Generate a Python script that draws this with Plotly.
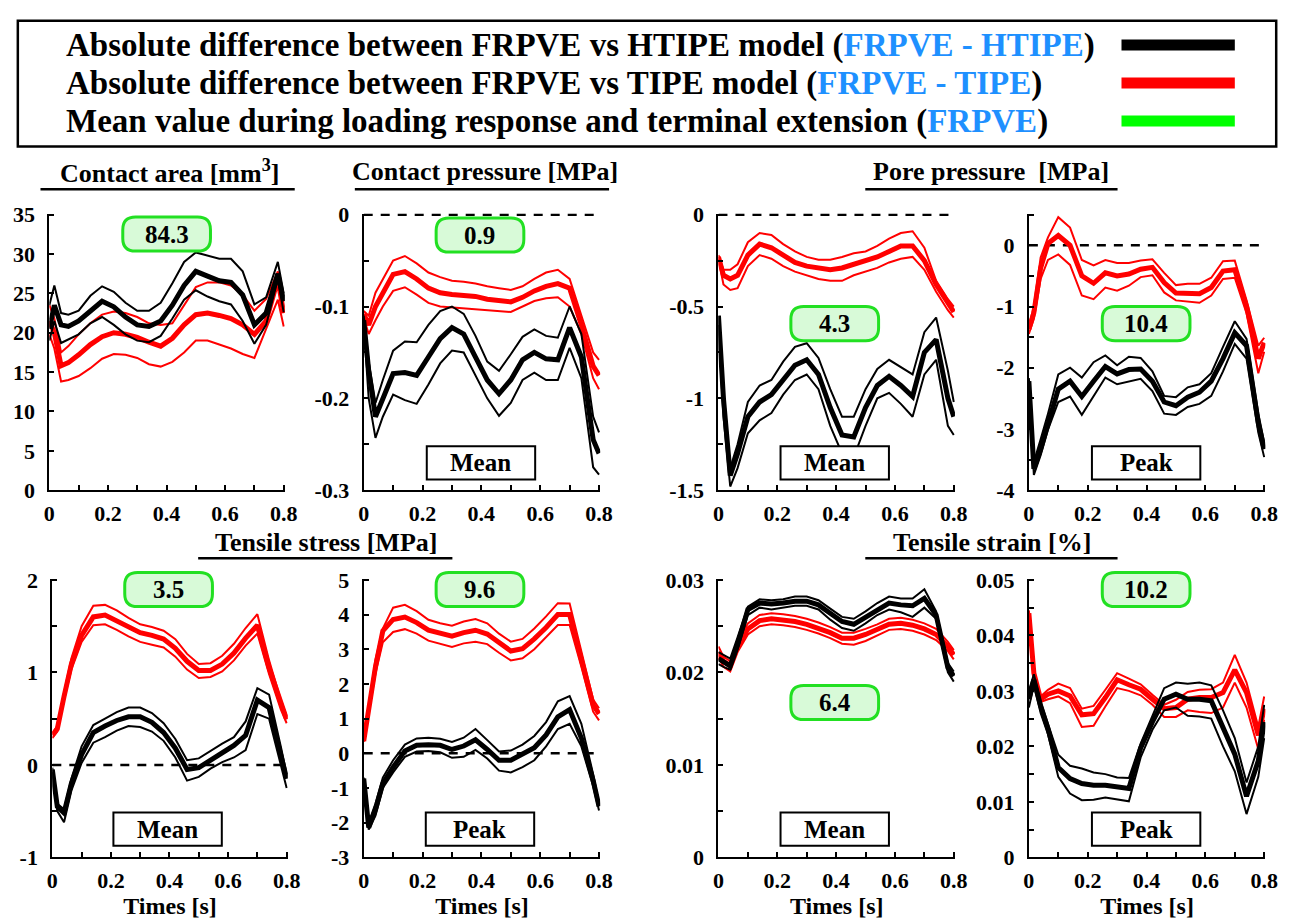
import plotly.graph_objects as go

W, H = 1303, 921

# ---------------- data ----------------
time_s = [0, 0.017, 0.04, 0.065, 0.1, 0.14, 0.18, 0.22, 0.26, 0.3, 0.34, 0.38,
          0.42, 0.46, 0.5, 0.54, 0.58, 0.62, 0.66, 0.7, 0.74, 0.78, 0.8]

# Contact area
ca_blk_mean = [20.5, 23.5, 21.0, 20.8, 21.5, 22.8, 24.0, 23.3, 22.0, 21.0, 20.8, 21.5, 23.5, 26.0, 27.8, 27.2, 26.6, 26.4, 24.8, 21.0, 22.5, 27.5, 24.0]
ca_blk_up = [23.5, 26.0, 22.5, 22.3, 22.8, 24.7, 25.9, 25.2, 23.8, 22.8, 22.8, 23.8, 26.3, 29.0, 30.2, 29.8, 29.4, 29.4, 27.8, 23.6, 24.5, 29.0, 25.0]
ca_blk_lo = [19.0, 21.5, 18.7, 19.2, 19.8, 21.2, 22.0, 21.0, 19.8, 19.0, 18.8, 19.6, 21.8, 24.2, 25.4, 24.6, 24.0, 23.6, 21.5, 18.6, 21.0, 26.8, 22.6]
ca_red_mean = [21.5, 20.0, 15.8, 16.2, 17.2, 18.5, 19.5, 20.0, 19.8, 19.4, 18.8, 18.3, 19.3, 21.0, 22.3, 22.5, 22.2, 21.8, 21.0, 19.8, 21.5, 26.8, 22.5]
ca_red_up = [23.5, 21.8, 17.5, 18.3, 19.8, 21.2, 22.3, 22.7, 22.5, 22.0, 21.2, 21.0, 21.2, 23.5, 25.8, 26.4, 26.4, 26.0, 24.8, 22.8, 24.3, 27.8, 22.5]
ca_red_lo = [19.8, 18.0, 13.8, 14.0, 14.5, 15.5, 16.7, 17.3, 17.2, 16.8, 16.0, 15.7, 16.3, 17.5, 19.0, 19.0, 18.5, 18.0, 17.3, 16.8, 20.5, 24.2, 20.8]

# Contact pressure (mean)
cp_blk_mean = [-0.115, -0.17, -0.22, -0.2, -0.173, -0.172, -0.175, -0.155, -0.135, -0.123, -0.13, -0.155, -0.18, -0.195, -0.18, -0.158, -0.15, -0.157, -0.158, -0.123, -0.155, -0.245, -0.26]
cp_blk_up = [-0.11, -0.16, -0.205, -0.18, -0.148, -0.138, -0.139, -0.12, -0.105, -0.1, -0.108, -0.132, -0.16, -0.17, -0.152, -0.133, -0.125, -0.132, -0.134, -0.1, -0.13, -0.22, -0.237]
cp_blk_lo = [-0.12, -0.2, -0.243, -0.22, -0.196, -0.202, -0.206, -0.185, -0.162, -0.148, -0.15, -0.175, -0.2, -0.219, -0.205, -0.18, -0.172, -0.18, -0.18, -0.145, -0.178, -0.275, -0.283]
cp_red_mean = [-0.108, -0.12, -0.1, -0.085, -0.065, -0.062, -0.07, -0.08, -0.085, -0.087, -0.088, -0.089, -0.092, -0.094, -0.095, -0.09, -0.083, -0.078, -0.075, -0.08, -0.12, -0.165, -0.175]
cp_red_up = [-0.105, -0.11, -0.085, -0.07, -0.05, -0.045, -0.053, -0.063, -0.068, -0.072, -0.073, -0.075, -0.078, -0.08, -0.082, -0.078, -0.07, -0.063, -0.06, -0.07, -0.11, -0.15, -0.158]
cp_red_lo = [-0.112, -0.13, -0.115, -0.1, -0.083, -0.079, -0.087, -0.096, -0.1, -0.101, -0.102, -0.103, -0.104, -0.105, -0.106, -0.1, -0.094, -0.091, -0.09, -0.1, -0.13, -0.178, -0.19]

# Pore pressure (mean)
pm_blk_mean = [-0.55, -1.0, -1.42, -1.3, -1.1, -1.02, -0.98, -0.9, -0.82, -0.79, -0.87, -1.05, -1.2, -1.21, -1.05, -0.93, -0.88, -0.93, -0.99, -0.75, -0.68, -1.0, -1.1]
pm_blk_up = [-0.55, -0.95, -1.38, -1.25, -1.02, -0.93, -0.9, -0.8, -0.72, -0.7, -0.78, -0.95, -1.1, -1.1, -0.95, -0.84, -0.79, -0.83, -0.87, -0.64, -0.56, -0.85, -1.02]
pm_blk_lo = [-0.6, -1.1, -1.48, -1.38, -1.19, -1.12, -1.08, -0.98, -0.9, -0.87, -0.95, -1.15, -1.3, -1.32, -1.15, -1.0, -0.97, -1.03, -1.1, -0.87, -0.79, -1.15, -1.2]
pm_red_mean = [-0.23, -0.33, -0.35, -0.33, -0.22, -0.16, -0.18, -0.22, -0.26, -0.28, -0.29, -0.3, -0.29, -0.27, -0.25, -0.23, -0.2, -0.17, -0.17, -0.25, -0.38, -0.48, -0.53]
pm_red_up = [-0.22, -0.3, -0.3, -0.27, -0.15, -0.1, -0.11, -0.16, -0.2, -0.23, -0.245, -0.245, -0.23, -0.21, -0.2, -0.17, -0.13, -0.1, -0.09, -0.18, -0.36, -0.46, -0.5]
pm_red_lo = [-0.24, -0.38, -0.41, -0.4, -0.28, -0.22, -0.24, -0.28, -0.31, -0.33, -0.35, -0.36, -0.36, -0.33, -0.31, -0.29, -0.26, -0.24, -0.23, -0.3, -0.42, -0.52, -0.56]

# Pore pressure (peak)
pp_blk_mean = [-2.22, -3.65, -3.33, -2.9, -2.35, -2.22, -2.47, -2.22, -1.98, -2.1, -2.03, -2.02, -2.22, -2.56, -2.62, -2.48, -2.4, -2.22, -1.85, -1.43, -1.64, -2.9, -3.33]
pp_blk_up = [-2.17, -3.54, -3.17, -2.75, -2.11, -2.0, -2.16, -1.91, -1.8, -1.96, -1.82, -1.84, -2.06, -2.46, -2.48, -2.32, -2.27, -2.09, -1.66, -1.24, -1.53, -2.75, -3.22]
pp_blk_lo = [-2.27, -3.75, -3.43, -3.01, -2.56, -2.47, -2.77, -2.46, -2.16, -2.27, -2.22, -2.18, -2.38, -2.75, -2.77, -2.64, -2.59, -2.46, -2.06, -1.61, -1.85, -3.06, -3.46]
pp_red_mean = [-1.37, -1.1, -0.37, 0.03, 0.16, 0.0, -0.5, -0.62, -0.45, -0.5, -0.47, -0.39, -0.36, -0.61, -0.78, -0.79, -0.79, -0.69, -0.42, -0.4, -1.0, -1.85, -1.59]
pp_red_up = [-1.32, -1.0, -0.2, 0.13, 0.46, 0.29, -0.24, -0.33, -0.24, -0.29, -0.29, -0.25, -0.23, -0.45, -0.65, -0.63, -0.63, -0.53, -0.26, -0.25, -0.9, -1.64, -1.51]
pp_red_lo = [-1.45, -1.2, -0.55, -0.24, -0.15, -0.32, -0.82, -0.88, -0.69, -0.74, -0.66, -0.52, -0.49, -0.77, -0.9, -0.92, -0.94, -0.82, -0.55, -0.53, -1.11, -2.09, -1.74]

# Tensile stress (mean)
sm_blk_mean = [-0.05, -0.45, -0.52, -0.2, 0.11, 0.35, 0.42, 0.48, 0.52, 0.52, 0.46, 0.35, 0.18, -0.05, -0.03, 0.05, 0.13, 0.21, 0.32, 0.7, 0.62, 0.11, -0.15]
sm_blk_up = [-0.03, -0.42, -0.48, -0.15, 0.2, 0.43, 0.5, 0.57, 0.62, 0.62, 0.56, 0.45, 0.28, 0.05, 0.07, 0.15, 0.23, 0.3, 0.47, 0.83, 0.76, 0.2, -0.1]
sm_blk_lo = [-0.08, -0.5, -0.62, -0.28, 0.02, 0.24, 0.3, 0.37, 0.42, 0.41, 0.36, 0.26, 0.08, -0.17, -0.13, -0.04, 0.03, 0.08, 0.16, 0.55, 0.5, 0.0, -0.25]
sm_red_mean = [0.32, 0.39, 0.74, 1.09, 1.4, 1.6, 1.62, 1.56, 1.49, 1.43, 1.4, 1.36, 1.26, 1.12, 1.02, 1.02, 1.09, 1.21, 1.37, 1.51, 1.05, 0.65, 0.49]
sm_red_up = [0.34, 0.42, 0.78, 1.15, 1.5, 1.72, 1.73, 1.67, 1.59, 1.52, 1.49, 1.45, 1.36, 1.2, 1.09, 1.1, 1.18, 1.31, 1.48, 1.63, 1.13, 0.7, 0.53]
sm_red_lo = [0.29, 0.36, 0.7, 1.03, 1.33, 1.51, 1.52, 1.46, 1.39, 1.33, 1.3, 1.27, 1.17, 1.03, 0.94, 0.95, 1.01, 1.13, 1.29, 1.42, 0.98, 0.6, 0.45]

# Tensile stress (peak)
sp_blk_mean = [-0.73, -2.14, -1.62, -0.87, -0.4, 0.07, 0.23, 0.25, 0.23, 0.11, 0.21, 0.39, 0.11, -0.2, -0.2, -0.03, 0.16, 0.53, 1.05, 1.26, 0.44, -0.78, -1.53]
sp_blk_up = [-0.7, -2.0, -1.45, -0.7, -0.2, 0.25, 0.43, 0.45, 0.42, 0.33, 0.45, 0.7, 0.38, 0.05, 0.08, 0.25, 0.5, 0.9, 1.5, 1.65, 0.85, -0.6, -1.45]
sp_blk_lo = [-0.8, -2.2, -1.8, -1.0, -0.55, -0.1, 0.05, 0.07, 0.03, -0.13, -0.1, 0.1, -0.15, -0.5, -0.55, -0.4, -0.2, 0.2, 0.7, 0.85, 0.2, -0.95, -1.65]
sp_red_mean = [0.35, 1.28, 2.5, 3.53, 3.86, 3.93, 3.77, 3.55, 3.46, 3.38, 3.48, 3.55, 3.44, 3.18, 2.95, 3.02, 3.3, 3.63, 4.0, 4.0, 2.7, 1.4, 1.14]
sp_red_up = [0.37, 1.4, 2.7, 3.6, 4.2, 4.28, 4.1, 3.85, 3.75, 3.68, 3.8, 3.87, 3.75, 3.45, 3.22, 3.3, 3.6, 3.95, 4.33, 4.32, 2.9, 1.55, 1.3]
sp_red_lo = [0.33, 1.15, 2.3, 3.2, 3.5, 3.58, 3.45, 3.25, 3.15, 3.07, 3.17, 3.22, 3.15, 2.9, 2.68, 2.74, 3.0, 3.35, 3.7, 3.7, 2.5, 1.2, 0.95]

# Tensile strain (mean)
em_blk_mean = [0.0215, 0.0212, 0.0207, 0.0230, 0.0268, 0.0275, 0.0274, 0.0275, 0.0277, 0.0277, 0.0273, 0.0264, 0.0255, 0.0252, 0.0260, 0.0268, 0.0275, 0.0273, 0.0272, 0.0280, 0.0262, 0.0205, 0.0196]
em_blk_up = [0.0222, 0.0219, 0.0215, 0.0238, 0.0271, 0.0279, 0.0278, 0.0279, 0.0282, 0.0282, 0.0278, 0.0269, 0.0260, 0.0258, 0.0266, 0.0275, 0.0282, 0.0280, 0.0280, 0.0290, 0.0266, 0.0210, 0.0201]
em_blk_lo = [0.0209, 0.0206, 0.0203, 0.0225, 0.0262, 0.0270, 0.0268, 0.0270, 0.0272, 0.0272, 0.0268, 0.0257, 0.0248, 0.0245, 0.0253, 0.0262, 0.0268, 0.0265, 0.0260, 0.0270, 0.0258, 0.0200, 0.0190]
em_red_mean = [0.0222, 0.0212, 0.0207, 0.0228, 0.0247, 0.0256, 0.0258, 0.0257, 0.0255, 0.0252, 0.0248, 0.0243, 0.0237, 0.0237, 0.0241, 0.0246, 0.0252, 0.0253, 0.0251, 0.0247, 0.0241, 0.0228, 0.0219]
em_red_up = [0.0228, 0.0217, 0.0212, 0.0234, 0.0253, 0.0262, 0.0264, 0.0263, 0.0261, 0.0258, 0.0254, 0.0249, 0.0243, 0.0243, 0.0247, 0.0252, 0.0258, 0.0259, 0.0257, 0.0253, 0.0247, 0.0233, 0.0224]
em_red_lo = [0.0216, 0.0206, 0.0201, 0.0222, 0.0241, 0.0250, 0.0252, 0.0251, 0.0249, 0.0246, 0.0242, 0.0237, 0.0231, 0.0230, 0.0234, 0.0240, 0.0246, 0.0247, 0.0245, 0.0241, 0.0235, 0.0223, 0.0214]

# Tensile strain (peak)
ep_blk_mean = [0.0285, 0.032, 0.0273, 0.0232, 0.0162, 0.0142, 0.0133, 0.013, 0.013, 0.0127, 0.0124, 0.0197, 0.0244, 0.0285, 0.0294, 0.0285, 0.0285, 0.0282, 0.0232, 0.0186, 0.011, 0.0174, 0.0244]
ep_blk_up = [0.030, 0.033, 0.028, 0.024, 0.0185, 0.0165, 0.016, 0.0153, 0.015, 0.0144, 0.0143, 0.0205, 0.0255, 0.0305, 0.0315, 0.0313, 0.0315, 0.031, 0.0265, 0.0215, 0.0135, 0.020, 0.0275]
ep_blk_lo = [0.027, 0.031, 0.026, 0.0222, 0.0145, 0.0115, 0.0103, 0.0104, 0.0108, 0.0105, 0.0101, 0.018, 0.023, 0.0265, 0.027, 0.0255, 0.0254, 0.025, 0.020, 0.0155, 0.0078, 0.0145, 0.0215]
ep_red_mean = [0.044, 0.0332, 0.0285, 0.0294, 0.030, 0.0291, 0.0257, 0.0259, 0.0288, 0.032, 0.0311, 0.0303, 0.0285, 0.0268, 0.027, 0.0285, 0.0288, 0.0288, 0.0297, 0.0338, 0.0297, 0.022, 0.0268]
ep_red_up = [0.0445, 0.0335, 0.029, 0.0302, 0.0313, 0.0305, 0.0268, 0.0273, 0.0302, 0.0332, 0.0322, 0.0312, 0.0293, 0.0275, 0.0284, 0.0298, 0.0302, 0.0303, 0.0315, 0.0365, 0.0315, 0.0235, 0.029]
ep_red_lo = [0.0435, 0.033, 0.028, 0.0285, 0.029, 0.0278, 0.0235, 0.0237, 0.0272, 0.0305, 0.030, 0.0292, 0.0275, 0.0253, 0.0253, 0.0265, 0.0262, 0.026, 0.027, 0.0315, 0.027, 0.0195, 0.0248]

x_ticks = [0, 0.1, 0.2, 0.3, 0.4, 0.5, 0.6, 0.7, 0.8]
x_ticktext = ['0', ' ', '0.2', ' ', '0.4', ' ', '0.6', ' ', '0.8']

mean_values = ['84.3', '0.9', '4.3', '10.4', '3.5', '9.6', '6.4', '10.2']
box_labels = [None, 'Mean', 'Mean', 'Peak', 'Mean', 'Peak', 'Mean', 'Peak']
legend_texts = [
    "Absolute difference between FRPVE vs HTIPE model (<span style='color:#1E90FF'>FRPVE - HTIPE</span>)",
    "Absolute difference between FRPVE vs TIPE model (<span style='color:#1E90FF'>FRPVE - TIPE</span>)",
    "Mean value during loading response and terminal extension (<span style='color:#1E90FF'>FRPVE</span>)",
]
legend_colors = ['#000000', '#ff0000', '#00ff00']

# ---------------- layout helpers ----------------
def X(px):
    return px / W

def Y(py):
    return 1 - py / H

FONT = 'Liberation Serif'

panels = [
    dict(series=(ca_blk_mean, ca_blk_up, ca_blk_lo, ca_red_mean, ca_red_up, ca_red_lo),
         xpx=(44, 283), ypx=(208, 492), yr=(0, 35),
         yt=[0, 5, 10, 15, 20, 25, 30, 35], ytt=['0', '5', '10', '15', '20', '25', '30', '35'],
         zero=False, green=(163, 229), box=None),
    dict(series=(cp_blk_mean, cp_blk_up, cp_blk_lo, cp_red_mean, cp_red_up, cp_red_lo),
         xpx=(363, 603), ypx=(208, 492), yr=(-0.3, 0.0),
         yt=[-0.3, -0.25, -0.2, -0.15, -0.1, -0.05, 0], ytt=['-0.3', ' ', '-0.2', ' ', '-0.1', ' ', '0'],
         zero=True, green=(481, 230), box=(482, 464)),
    dict(series=(pm_blk_mean, pm_blk_up, pm_blk_lo, pm_red_mean, pm_red_up, pm_red_lo),
         xpx=(723, 963), ypx=(208, 492), yr=(-1.5, 0.0),
         yt=[-1.5, -1.25, -1, -0.75, -0.5, -0.25, 0], ytt=['-1.5', ' ', '-1', ' ', '-0.5', ' ', '0'],
         zero=True, green=(841, 321), box=(841, 464)),
    dict(series=(pp_blk_mean, pp_blk_up, pp_blk_lo, pp_red_mean, pp_red_up, pp_red_lo),
         xpx=(1038, 1278), ypx=(208, 492), yr=(-4, 0.5),
         yt=[-4, -3.5, -3, -2.5, -2, -1.5, -1, -0.5, 0, 0.5], ytt=['-4', ' ', '-3', ' ', '-2', ' ', '-1', ' ', '0', ' '],
         zero=True, green=(1157, 321), box=(1157, 464)),
    dict(series=(sm_blk_mean, sm_blk_up, sm_blk_lo, sm_red_mean, sm_red_up, sm_red_lo),
         xpx=(47, 286), ypx=(583, 869), yr=(-1, 2),
         yt=[-1, -0.5, 0, 0.5, 1, 1.5, 2], ytt=['-1', ' ', '0', ' ', '1', ' ', '2'],
         zero=True, green=(165, 594), box=(164, 840)),
    dict(series=(sp_blk_mean, sp_blk_up, sp_blk_lo, sp_red_mean, sp_red_up, sp_red_lo),
         xpx=(363, 603), ypx=(583, 869), yr=(-3, 5),
         yt=[-3, -2, -1, 0, 1, 2, 3, 4, 5], ytt=['-3', '-2', '-1', '0', '1', '2', '3', '4', '5'],
         zero=True, green=(481, 594), box=(481, 840)),
    dict(series=(em_blk_mean, em_blk_up, em_blk_lo, em_red_mean, em_red_up, em_red_lo),
         xpx=(723, 963), ypx=(583, 869), yr=(0, 0.03),
         yt=[0, 0.005, 0.01, 0.015, 0.02, 0.025, 0.03], ytt=['0', ' ', '0.01', ' ', '0.02', ' ', '0.03'],
         zero=False, green=(841, 710), box=(841, 840)),
    dict(series=(ep_blk_mean, ep_blk_up, ep_blk_lo, ep_red_mean, ep_red_up, ep_red_lo),
         xpx=(1038, 1278), ypx=(583, 869), yr=(0, 0.05),
         yt=[0, 0.005, 0.01, 0.015, 0.02, 0.025, 0.03, 0.035, 0.04, 0.045, 0.05],
         ytt=['0', ' ', '0.01', ' ', '0.02', ' ', '0.03', ' ', '0.04', ' ', '0.05'],
         zero=False, green=(1157, 594), box=(1157, 840)),
]

fig = go.Figure()
shapes = []
annotations = []
layout_axes = {}

def rounded_rect(cx, cy, w, h, r):
    x0, x1 = X(cx - w / 2), X(cx + w / 2)
    y0, y1 = Y(cy + h / 2), Y(cy - h / 2)
    rx, ry = r / W, r / H
    return (f"M {x0+rx},{y0} L {x1-rx},{y0} Q {x1},{y0} {x1},{y0+ry} "
            f"L {x1},{y1-ry} Q {x1},{y1} {x1-rx},{y1} L {x0+rx},{y1} "
            f"Q {x0},{y1} {x0},{y1-ry} L {x0},{y0+ry} Q {x0},{y0} {x0+rx},{y0} Z")

for i, p in enumerate(panels, start=1):
    xa = 'x' if i == 1 else f'x{i}'
    ya = 'y' if i == 1 else f'y{i}'
    bm, bu, bl, rm, ru, rl = p['series']
    if p['zero']:
        fig.add_trace(go.Scatter(x=[0, 0.8], y=[0, 0], mode='lines', xaxis=xa, yaxis=ya,
                                 line=dict(color='black', width=2.5, dash='9px,8px'),
                                 showlegend=False, hoverinfo='skip'))
    for ys, col, wd in [(ru, '#ff0000', 2), (rl, '#ff0000', 2), (rm, '#ff0000', 5),
                        (bu, '#000000', 2), (bl, '#000000', 2), (bm, '#000000', 5)]:
        fig.add_trace(go.Scatter(x=time_s, y=ys, mode='lines', xaxis=xa, yaxis=ya,
                                 line=dict(color=col, width=wd),
                                 showlegend=False, hoverinfo='skip'))
    span = p['yr'][1] - p['yr'][0]
    common = dict(showline=True, linecolor='black', linewidth=2, ticks='inside',
                  ticklen=5, tickwidth=2, tickcolor='black', showgrid=False, zeroline=False,
                  tickfont=dict(family=FONT, size=22, color='black', weight='bold'))
    xk = 'xaxis' if i == 1 else f'xaxis{i}'
    yk = 'yaxis' if i == 1 else f'yaxis{i}'
    xaxis = dict(common, domain=[X(p['xpx'][0]), X(p['xpx'][1])], anchor=ya,
                 range=[0, 0.8 + 0.004], tickmode='array', tickvals=x_ticks, ticktext=x_ticktext,
                 ticklabelstandoff=2)
    if i >= 5:
        xaxis['title'] = dict(text='<b>Times [s]</b>', font=dict(family=FONT, size=24, color='black'),
                              standoff=3)
    yaxis = dict(common, domain=[Y(p['ypx'][1]), Y(p['ypx'][0])], anchor=xa,
                 range=[p['yr'][0], p['yr'][1] + span * 0.004], tickmode='array',
                 tickvals=p['yt'], ticktext=p['ytt'], ticklabelstandoff=8)
    layout_axes[xk] = xaxis
    layout_axes[yk] = yaxis

    gx, gy = p['green']
    shapes.append(dict(type='path', xref='paper', yref='paper', path=rounded_rect(gx, gy, 89, 35, 13),
                       fillcolor='#d8fad8', line=dict(color='#22e022', width=3), layer='above'))
    annotations.append(dict(x=X(gx), y=Y(gy), xref='paper', yref='paper', showarrow=False,
                            text=f'<b>{mean_values[i-1]}</b>',
                            font=dict(family=FONT, size=25, color='black'),
                            xanchor='center', yanchor='middle'))
    if p['box'] is not None:
        bx, by = p['box']
        shapes.append(dict(type='rect', xref='paper', yref='paper',
                           x0=X(bx - 55), x1=X(bx + 55), y0=Y(by + 17), y1=Y(by - 17),
                           fillcolor='white', line=dict(color='black', width=2), layer='above'))
        annotations.append(dict(x=X(bx), y=Y(by), xref='paper', yref='paper', showarrow=False,
                                text=f'<b>{box_labels[i-1]}</b>',
                                font=dict(family=FONT, size=25, color='black'),
                                xanchor='center', yanchor='middle'))

# group titles with underline
titles = [
    ('Contact area [mm<sup>3</sup>]', 166, 165, 35, 293, 183),
    ('Contact pressure [MPa]', 486, 165, 354, 612, 183),
    ('Pore pressure  [MPa]', 1000, 165, 872, 1128, 183),
    ('Tensile stress [MPa]', 325, 546, 195, 453, 562),
    ('Tensile strain [%]', 1001, 546, 872, 1128, 562),
]
for txt, cx, cy, ux0, ux1, uy in titles:
    annotations.append(dict(x=X(cx), y=Y(cy), xref='paper', yref='paper', showarrow=False,
                            text=f'<b>{txt}</b>', font=dict(family=FONT, size=26, color='black'),
                            xanchor='center', yanchor='middle'))
    shapes.append(dict(type='line', xref='paper', yref='paper', x0=X(ux0), x1=X(ux1),
                       y0=Y(uy), y1=Y(uy), line=dict(color='black', width=2.5)))

# legend box
shapes.append(dict(type='rect', xref='paper', yref='paper', x0=X(12), x1=X(1289), y0=Y(139), y1=Y(10),
                   line=dict(color='black', width=2.5), fillcolor='rgba(0,0,0,0)'))
for k, (txt, col) in enumerate(zip(legend_texts, legend_colors)):
    yy = [35, 74, 113][k]
    annotations.append(dict(x=X(60), y=Y(yy), xref='paper', yref='paper', showarrow=False,
                            text=f'<b>{txt}</b>', font=dict(family=FONT, size=33, color='black'),
                            xanchor='left', yanchor='middle', borderpad=0))
    shapes.append(dict(type='line', xref='paper', yref='paper', x0=X(1132), x1=X(1247),
                       y0=Y(yy), y1=Y(yy), line=dict(color=col, width=11)))

fig.update_layout(width=W, height=H, margin=dict(l=0, r=0, t=0, b=0),
                  paper_bgcolor='white', plot_bgcolor='white',
                  font=dict(family=FONT, color='black'),
                  shapes=shapes, annotations=annotations, showlegend=False, **layout_axes)

fig.write_html('out.html', post_script="document.body.style.margin='0px';")
